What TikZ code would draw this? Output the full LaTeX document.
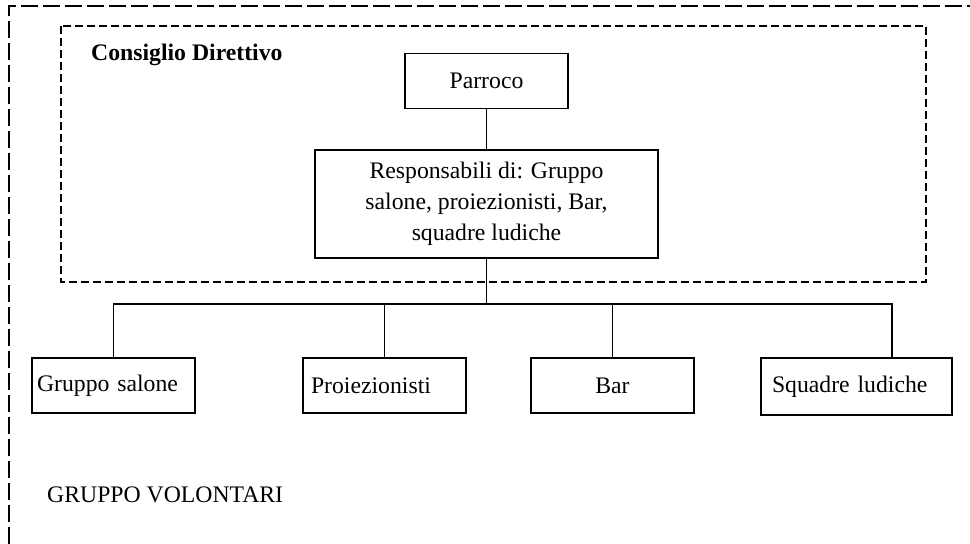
\documentclass[tikz,border=0pt]{standalone}
\usepackage{fontspec}
\setmainfont{Liberation Serif}
\usetikzlibrary{positioning}
\tikzset{
    % box of the chart
    casella/.style={
           rectangle,
           draw=black, line width=1pt,
           minimum width=3.26cm,
           minimum height=1.1cm,
           inner sep=0pt,
           font=\fontsize{13.5}{16.5}\selectfont},
    % box with text to the left
    casellasx/.style={
           casella,
           text width=2.95cm,
           align=left},
    % connector style
    linea/.style={
           line width=1pt},
    % dashed frames
    cornice/.style={
           line width=0.9pt,
           dash pattern=on 0.16cm off 0.08cm},
    cornicegrande/.style={
           line width=0.9pt,
           dash pattern=on 0.34cm off 0.1cm}
}
\begin{document}
\begin{tikzpicture}[x=0.02cm, y=-0.02cm]
 \useasboundingbox (0,0) rectangle (970,544);
 % frames
 \draw[cornicegrande] (9,544) -- (9,6) -- (970,6);
 \draw[cornice] (61,26) rectangle (926,282);
 \node[anchor=west, font=\fontsize{13.5}{16.5}\selectfont\bfseries] (consiglio) at (85,55) {Consiglio Direttivo};
 %nodes
 \node[casella] (parroco) at (486.5,81) {Parroco};
 \node[casella, minimum width=6.86cm, minimum height=2.16cm, align=center,
       font=\fontsize{13.5}{17.5}\selectfont] (resp) at (486.5,204)
   {Responsabili di: Gruppo\\ salone, proiezionisti, Bar,\\ squadre ludiche};
 \coordinate (bus) at (486.5,304);
 \node[casellasx, text width=3.06cm] (gruppo) at (113.5,385.5) {Gruppo salone};
 \node[casellasx, text width=2.94cm] (proiez) at (384.5,385.5) {Proiezionisti};
 \node[casella] (bar) at (612.5,385.5) {Bar};
 \node[casellasx, minimum width=3.82cm, minimum height=1.14cm, text width=3.38cm] (squadre) at (856.5,386.5) {Squadre ludiche};
 \node[anchor=west, font=\fontsize{13.5}{16.5}\selectfont] (volontari) at (41,495) {GRUPPO VOLONTARI};
 % connectors
 \draw[linea] (parroco.south) -- (resp.north);
 \draw[linea] (resp.south) -- (bus);
 \draw[linea] (gruppo.north) |- (bus) -| ([xshift=0.71cm]squadre.north);
 \draw[linea] (proiez.north) -- (proiez.north |- bus);
 \draw[linea] (bar.north) -- (bar.north |- bus);
\end{tikzpicture}
\end{document}
